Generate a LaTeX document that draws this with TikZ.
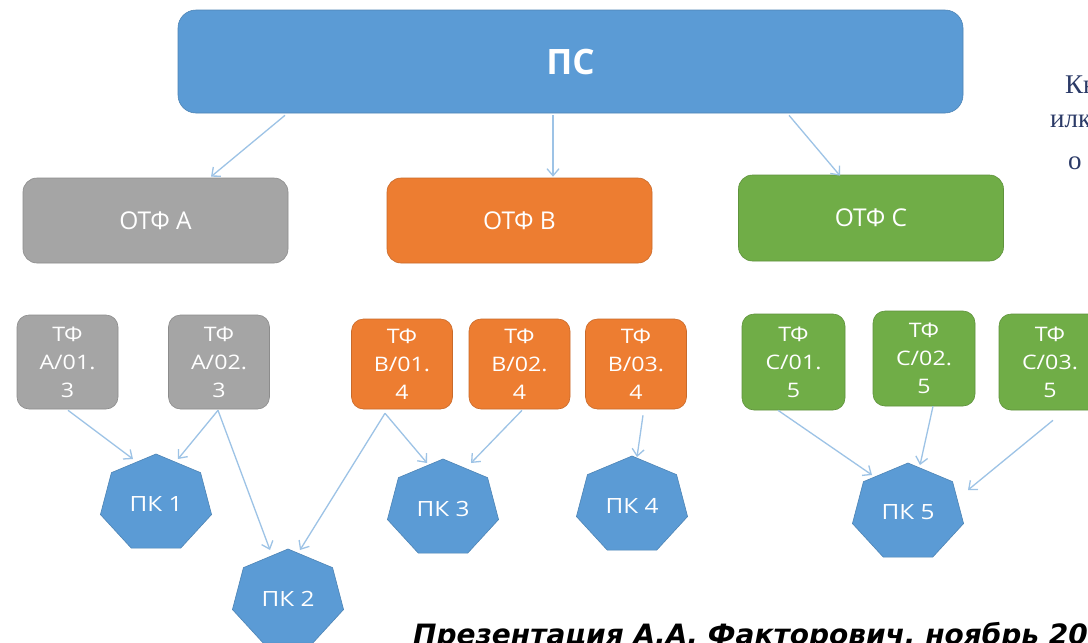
\documentclass[tikz,border=0pt]{standalone}
\usepackage{fontspec}
\setmainfont{Open Sans}
\newfontfamily\wideSans{Open Sans}[FakeStretch=1.16]
\newfontfamily\rserif{Liberation Serif}
\newfontfamily\capfont{DejaVu Sans}
\usetikzlibrary{arrows.meta,shapes.geometric}
\definecolor{psblue}{HTML}{5B9BD5}
\definecolor{grayA}{HTML}{A5A5A5}
\definecolor{orangeB}{HTML}{ED7D31}
\definecolor{greenC}{HTML}{70AD47}
\definecolor{arrowc}{HTML}{9DC3E6}
\definecolor{navytext}{HTML}{2B3A67}
\tikzset{
  psbox/.style={rectangle, rounded corners=18pt, fill=psblue, draw=psblue!85!black, line width=0.6pt,
    minimum width=785pt, minimum height=103pt, text=white, font=\fontsize{35}{40}\selectfont\bfseries},
  otf/.style={rectangle, rounded corners=14pt, draw=#1!85!black, line width=0.6pt, fill=#1,
    minimum width=265pt, minimum height=85pt, text=white, font=\fontsize{24.5}{28}\selectfont},
  tfbox/.style={rectangle, rounded corners=12pt, draw=#1!85!black, line width=0.6pt, fill=#1,
    minimum width=101pt, align=center, inner sep=0pt, text=white, font=\wideSans\fontsize{20}{28}\selectfont},
  pkfill/.style={fill=psblue, draw=psblue!85!black, line width=0.6pt},
  pklabel/.style={inner sep=0pt, text=white, font=\wideSans\fontsize{21}{25}\selectfont},
  arr/.style={draw=arrowc, line width=1.3pt, -{Straight Barb[length=7pt,width=12pt,line width=1.3pt]}},
  rtext/.style={anchor=base west, inner sep=0pt, text=navytext, font=\rserif\fontsize{27}{27}\selectfont},
  captext/.style={anchor=base west, inner sep=0pt, text=black, font=\capfont\fontsize{28}{30}\selectfont\bfseries\itshape}
}
\newcommand{\heptpath}[2]{%
  \path[pkfill] ([shift={(#1,#2)}]-90:57 and 49.5)
    -- ([shift={(#1,#2)}]-38.571:57 and 49.5)
    -- ([shift={(#1,#2)}]12.857:57 and 49.5)
    -- ([shift={(#1,#2)}]64.286:57 and 49.5)
    -- ([shift={(#1,#2)}]115.714:57 and 49.5)
    -- ([shift={(#1,#2)}]167.143:57 and 49.5)
    -- ([shift={(#1,#2)}]218.571:57 and 49.5) -- cycle;}
\begin{document}
\begin{tikzpicture}[x=1pt,y=-1pt]
\useasboundingbox (0,0) rectangle (1088,643);
\clip (0,0) rectangle (1088,643);
\fill[white] (0,0) rectangle (1088,643);

% top box
\node[psbox] (ps) at (570.5,61.5) {ПС};

% OTF boxes
\node[otf=grayA] (otfa) at (155.5,220.5) {ОТФ А};
\node[otf=orangeB] (otfb) at (519.5,220.5) {ОТФ В};
\node[otf=greenC, minimum height=86pt] (otfc) at (871,218) {ОТФ С};

% TF boxes
\node[tfbox=grayA, minimum height=94pt] (tfa1) at (67.5,362) {ТФ\\А/01.\\3};
\node[tfbox=grayA, minimum height=94pt] (tfa2) at (219,362) {ТФ\\А/02.\\3};
\node[tfbox=orangeB, minimum height=90pt] (tfb1) at (402,364) {ТФ\\В/01.\\4};
\node[tfbox=orangeB, minimum height=90pt] (tfb2) at (519.5,364) {ТФ\\В/02.\\4};
\node[tfbox=orangeB, minimum height=90pt] (tfb3) at (636,364) {ТФ\\В/03.\\4};
\node[tfbox=greenC, minimum height=96pt, minimum width=103pt] (tfc1) at (793.5,362) {ТФ\\С/01.\\5};
\node[tfbox=greenC, minimum height=95pt, minimum width=102pt] (tfc2) at (924,358.5) {ТФ\\С/02.\\5};
\node[tfbox=greenC, minimum height=96pt, minimum width=102pt] (tfc3) at (1050,362) {ТФ\\С/03.\\5};

% heptagons
\heptpath{156}{503.5}
\heptpath{288}{598.5}
\heptpath{443}{508.5}
\heptpath{632}{505.5}
\heptpath{908}{512.5}
\node[pklabel] (pk1) at (156,503.5) {ПК 1};
\node[pklabel] (pk2) at (288,598.5) {ПК 2};
\node[pklabel] (pk3) at (443,508.5) {ПК 3};
\node[pklabel] (pk4) at (632,505.5) {ПК 4};
\node[pklabel] (pk5) at (908,512.5) {ПК 5};

% arrows from PS
\draw[arr] ([shift={(-285.5,2)}]ps.south) -- ([shift={(55.5,-1)}]otfa.north);
\draw[arr] ([shift={(-17.5,2)}]ps.south) -- ([shift={(33.5,-1)}]otfb.north);
\draw[arr] ([shift={(218.5,2)}]ps.south) -- ([shift={(-31,1)}]otfc.north);

% arrows to PK
\draw[arr] ([shift={(0.5,1)}]tfa1.south) -- ([shift={(-23,-44.5)}]pk1.center);
\draw[arr] ([shift={(-1,1)}]tfa2.south) -- ([shift={(22,-44.5)}]pk1.center);
\draw[arr] ([shift={(-1,1)}]tfa2.south) -- ([shift={(-18,-48.5)}]pk2.center);
\draw[arr] ([shift={(-17,4)}]tfb1.south) -- ([shift={(12,-48.5)}]pk2.center);
\draw[arr] ([shift={(-17,4)}]tfb1.south) -- ([shift={(-16,-45.5)}]pk3.center);
\draw[arr] ([shift={(2.5,1)}]tfb2.south) -- ([shift={(28,-45.5)}]pk3.center);
\draw[arr] ([shift={(7,6)}]tfb3.south) -- ([shift={(5,-48.5)}]pk4.center);
\draw[arr] ([shift={(-15.5,0)}]tfc1.south) -- ([shift={(-36,-37.5)}]pk5.center);
\draw[arr] ([shift={(9,0)}]tfc2.south) -- ([shift={(12,-47.5)}]pk5.center);
\draw[arr] ([shift={(3,10)}]tfc3.south) -- ([shift={(60,-22.5)}]pk5.center);

% clipped side text
\node[rtext] (r1) at (1065,93) {Кн};
\node[rtext] (r2) at (1050,127) {илк};
\node[rtext] (r3) at (1068,169) {о};

% caption
\node[captext] (cap) at (413,644) {Презентация А.А. Факторович, ноябрь 202};
\end{tikzpicture}
\end{document}
